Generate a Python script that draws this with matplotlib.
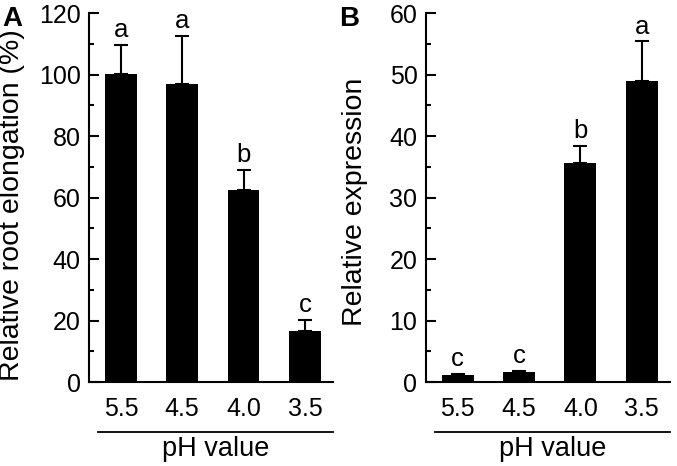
import matplotlib
matplotlib.use("Agg")
import matplotlib.pyplot as plt
from matplotlib.ticker import MultipleLocator

plt.rcParams['font.family'] = ['Liberation Sans', 'DejaVu Sans']

ph_labels = ['5.5', '4.5', '4.0', '3.5']

elong_mean = [100.3, 97.0, 62.5, 16.6]
elong_err = [9.4, 15.5, 6.4, 3.7]
elong_letters = ['a', 'a', 'b', 'c']

expr_mean = [1.2, 1.7, 35.7, 48.9]
expr_err = [0.1, 0.1, 2.7, 6.5]
expr_letters = ['c', 'c', 'b', 'a']

fig = plt.figure(figsize=(6.77, 4.66), dpi=100)
ax_a = fig.add_axes([0.1315, 0.180, 0.3605, 0.792])
ax_b = fig.add_axes([0.629, 0.180, 0.3605, 0.792])


def draw_panel(ax, means, errs, letters, ylabel, ymax, major, panel, ylab_pos):
    x = list(range(len(means)))
    ax.bar(x, means, width=0.52, color='black', zorder=2)
    ax.errorbar(x, means, yerr=[[0] * len(errs), errs], fmt='none',
                ecolor='black', elinewidth=1.5, capsize=5, capthick=1.5, zorder=3)
    for xi, m, e, lt in zip(x, means, errs, letters):
        ax.annotate(lt, (xi, m + e), xytext=(0, 2), textcoords='offset points',
                    ha='center', va='bottom', fontsize=18.5)
    ax.set_xlim(-0.52, 3.46)
    ax.set_ylim(0, ymax)
    ax.yaxis.set_major_locator(MultipleLocator(major))
    ax.yaxis.set_minor_locator(MultipleLocator(major / 2))
    ax.tick_params(axis='y', which='major', direction='in', length=7, width=1.5,
                   labelsize=18, pad=6)
    ax.tick_params(axis='y', which='minor', direction='in', length=3.5, width=1.5)
    ax.set_xticks(x)
    ax.set_xticklabels(ph_labels)
    ax.tick_params(axis='x', length=0, labelsize=18, pad=11)
    for s in ['top', 'right']:
        ax.spines[s].set_visible(False)
    for s in ['left', 'bottom']:
        ax.spines[s].set_linewidth(1.5)
    ax.set_ylabel(ylabel, fontsize=20.5)
    ax.yaxis.set_label_coords(*ylab_pos)
    ax.plot([0.037, 1.0], [-0.1355, -0.1355], color='black', lw=1.3,
            transform=ax.transAxes, clip_on=False)
    ax.text(0.52, -0.18, 'pH value', transform=ax.transAxes, ha='center',
            va='center', fontsize=19.5)
    ax.text(-0.355, 0.985, panel, transform=ax.transAxes, ha='left', va='center',
            fontsize=20, fontweight='bold')


draw_panel(ax_a, elong_mean, elong_err, elong_letters,
           'Relative root elongation (%)', 120, 20, 'A', (-0.262, 0.48))
draw_panel(ax_b, expr_mean, expr_err, expr_letters,
           'Relative expression', 60, 10, 'B', (-0.238, 0.489))

fig.savefig('out.png', dpi=100)
